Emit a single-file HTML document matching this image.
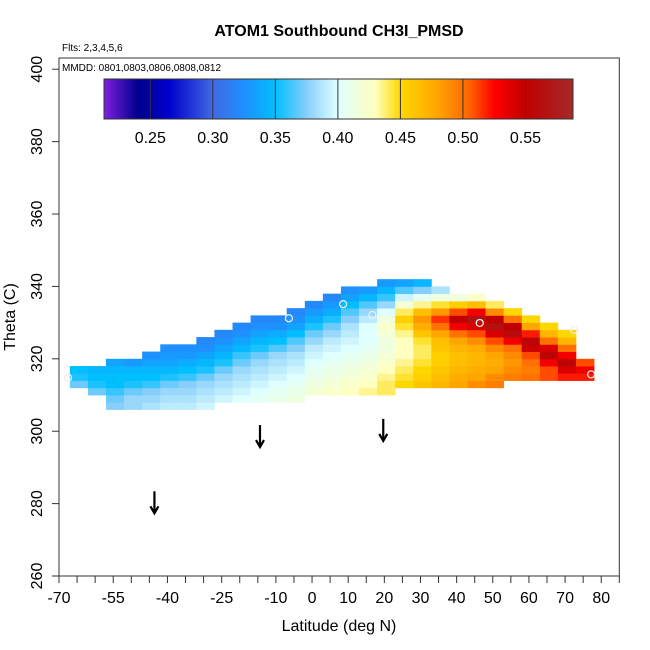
<!DOCTYPE html>
<html><head><meta charset="utf-8"><style>
html,body{margin:0;padding:0;background:#fff;}
svg{display:block;font-family:"Liberation Sans",Arial,sans-serif;}
</style></head><body>
<svg id="chart" width="650" height="650" viewBox="0 0 650 650" xmlns="http://www.w3.org/2000/svg">
<rect x="0" y="0" width="650" height="650" fill="#fff"/>
<text x="339" y="36" text-anchor="middle" font-size="16" font-weight="bold">ATOM1 Southbound CH3I_PMSD</text>
<text x="62" y="51" font-size="10">Flts: 2,3,4,5,6</text>
<g id="plot"></g>
<text x="62" y="71" font-size="10">MMDD: 0801,0803,0806,0808,0812</text>
<g id="cbar"></g>
<text x="339" y="631" text-anchor="middle" font-size="16">Latitude (deg N)</text>
<text transform="translate(15,317) rotate(-90)" text-anchor="middle" font-size="16">Theta (C)</text>
</svg>
<script>
// ---- data ----
const colLats = [-64.5,-59.5,-54.5,-49.5,-44.5,-39.5,-34.5,-29.5,-24.5,-19.5,-14.5,-9.5,-4.5,0.5,5.5,10.5,15.5,20.5,25.5,30.5,35.5,40.5,45.5,50.5,55.5,60.5,65.5,70.5,75.5];
const colBottoms = [312,310,306,306,306,306,306,306,308,308,308,308,308,310,310,310,310,310,312,312,312,312,312,312,314,314,314,314,314];
const colValues = [
 [0.37,0.355,0.35],
 [0.37,0.355,0.35,0.345],
 [0.375,0.37,0.36,0.35,0.35,0.345,0.335],
 [0.38,0.38,0.37,0.355,0.35,0.345,0.33],
 [0.385,0.38,0.375,0.36,0.35,0.345,0.335,0.325],
 [0.39,0.385,0.38,0.37,0.355,0.345,0.335,0.33,0.325],
 [0.39,0.385,0.38,0.375,0.36,0.35,0.34,0.33,0.325],
 [0.395,0.39,0.385,0.38,0.37,0.355,0.345,0.335,0.325,0.32],
 [0.395,0.39,0.385,0.38,0.37,0.355,0.345,0.335,0.325,0.32],
 [0.40,0.395,0.39,0.385,0.38,0.37,0.36,0.345,0.335,0.325,0.32],
 [0.405,0.40,0.395,0.39,0.385,0.38,0.37,0.355,0.345,0.335,0.325,0.32],
 [0.41,0.405,0.40,0.395,0.39,0.385,0.38,0.365,0.35,0.34,0.325,0.32],
 [0.415,0.41,0.405,0.40,0.395,0.39,0.385,0.375,0.365,0.35,0.335,0.325,0.32],
 [0.42,0.415,0.41,0.405,0.40,0.395,0.39,0.38,0.37,0.355,0.34,0.33,0.32],
 [0.425,0.42,0.415,0.41,0.405,0.40,0.395,0.39,0.38,0.37,0.355,0.34,0.33,0.32],
 [0.43,0.425,0.42,0.415,0.41,0.405,0.40,0.395,0.39,0.385,0.375,0.365,0.35,0.335,0.325],
 [0.435,0.43,0.425,0.42,0.415,0.41,0.405,0.40,0.40,0.40,0.39,0.38,0.365,0.345,0.33],
 [0.44,0.44,0.435,0.43,0.425,0.42,0.415,0.415,0.42,0.425,0.415,0.40,0.38,0.36,0.345,0.33],
 [0.45,0.445,0.44,0.435,0.43,0.43,0.43,0.435,0.445,0.455,0.44,0.42,0.395,0.365,0.335],
 [0.46,0.455,0.45,0.445,0.44,0.44,0.445,0.46,0.475,0.485,0.465,0.435,0.405,0.375,0.345],
 [0.47,0.465,0.46,0.455,0.455,0.46,0.465,0.48,0.50,0.515,0.485,0.445,0.415,0.385],
 [0.48,0.475,0.47,0.465,0.465,0.47,0.48,0.50,0.53,0.55,0.51,0.455,0.415],
 [0.49,0.48,0.475,0.47,0.47,0.475,0.49,0.51,0.54,0.565,0.53,0.465,0.425],
 [0.495,0.49,0.48,0.475,0.48,0.49,0.51,0.54,0.565,0.55,0.49,0.44],
 [0.495,0.49,0.485,0.49,0.50,0.53,0.56,0.55,0.50,0.45],
 [0.50,0.495,0.50,0.51,0.545,0.555,0.52,0.48,0.45],
 [0.51,0.51,0.53,0.555,0.54,0.50,0.47,0.45],
 [0.52,0.54,0.555,0.53,0.50,0.47,0.45],
 [0.52,0.53,0.51]
];
const markLats = [-67.5,-6.4,8.6,16.7,46.4,72.5,77.2];
const markThetas = [314.8,331.2,335.1,332.1,329.9,328,315.7];
const arrowLats = [-43.6,-14.4,19.7];
const arrowThetas = [283.4,301.7,303.4];
const xTicks = [-70,-65,-60,-55,-50,-45,-40,-35,-30,-25,-20,-15,-10,-5,0,5,10,15,20,25,30,35,40,45,50,55,60,65,70,75,80,85];
const xLabels = [-70,-55,-40,-25,-10,0,10,20,30,40,50,60,70,80];
const yTicks = [260,280,300,320,340,360,380,400];
const cbarTicks = [0.25,0.30,0.35,0.40,0.45,0.50,0.55];
const cbarMin = 0.213, cbarMax = 0.588;

// ---- scales ----
const X0=59, X1=619.3, Y0=576, Y1=58;
const LATMIN=-70, LATMAX=85, THMIN=260, THMAX=403.1;
const xs = v => X0 + (v-LATMIN)/(LATMAX-LATMIN)*(X1-X0);
const ys = v => Y0 - (v-THMIN)/(THMAX-THMIN)*(Y0-Y1);
const CW=5, RH=2;

const stops = [[0.213,[127,31,224]],[0.24,[0,0,139]],[0.265,[0,0,205]],[0.30,[65,105,225]],[0.325,[30,144,255]],[0.35,[0,191,255]],[0.375,[135,206,250]],[0.40,[224,255,255]],[0.43,[255,255,192]],[0.45,[255,215,0]],[0.48,[255,165,0]],[0.505,[255,100,0]],[0.525,[255,0,0]],[0.55,[192,0,0]],[0.588,[165,42,42]]];
function color(v){
  if(v<=stops[0][0]) return rgb(stops[0][1]);
  for(let i=1;i<stops.length;i++){
    if(v<=stops[i][0]){
      const a=stops[i-1],b=stops[i],t=(v-a[0])/(b[0]-a[0]);
      return rgb(a[1].map((c,k)=>c+(b[1][k]-c)*t));
    }
  }
  return rgb(stops[stops.length-1][1]);
}
function rgb(a){return 'rgb('+a.map(Math.round).join(',')+')';}

const NS='http://www.w3.org/2000/svg';
function mk(tag,attrs,parent){const e=document.createElementNS(NS,tag);for(const k in attrs)e.setAttribute(k,attrs[k]);parent.appendChild(e);return e;}
const plot=document.getElementById('plot');

// heatmap
const hm=mk('g',{},plot);


colLats.forEach((lat,i)=>{
  colValues[i].forEach((v,j)=>{
    const th=colBottoms[i]+j*RH;
    const x=xs(lat-CW/2), x2=xs(lat+CW/2), y=ys(th+RH), y2=ys(th);
    const r=mk('rect',{x:x.toFixed(2),y:y.toFixed(2),width:(x2-x+0.4).toFixed(2),height:(y2-y+0.4).toFixed(2),fill:color(v)},hm);
    
    
  });
});
// markers
markLats.forEach((lat,i)=>{
  const c=mk('circle',{cx:xs(lat),cy:ys(markThetas[i]),r:3.5,fill:'none',stroke:'#eeeeee','stroke-width':1.3},plot);
  
  
});
// arrows
arrowLats.forEach((lat,i)=>{
  const x=xs(lat), yt=ys(arrowThetas[i]), yb=yt+22;
  const g=mk('g',{},plot);
  
  
  mk('line',{x1:x,y1:yt,x2:x,y2:yb,stroke:'#000','stroke-width':2.2},g);
  mk('polyline',{points:`${x-4},${yb-7} ${x},${yb} ${x+4},${yb-7}`,fill:'none',stroke:'#000','stroke-width':2.2},g);
});
// frame
const fr=mk('rect',{x:X0,y:Y1,width:X1-X0,height:Y0-Y1,fill:'none',stroke:'#333','stroke-width':1},plot);


// x ticks
xTicks.forEach(t=>{
  const l=mk('line',{x1:xs(t),x2:xs(t),y1:Y0,y2:Y0+7,stroke:'#333'},plot);
  
  
});
xLabels.forEach(t=>{
  const tx=mk('text',{x:xs(t),y:603,'text-anchor':'middle','font-size':16},plot);
  tx.textContent=String(t);
  
  
});
yTicks.forEach(t=>{
  const l=mk('line',{x1:X0-7,x2:X0,y1:ys(t),y2:ys(t),stroke:'#333'},plot);
  
  
  const tx=mk('text',{transform:`translate(42,${ys(t)}) rotate(-90)`,'text-anchor':'middle','font-size':16},plot);
  tx.textContent=String(t);
  
  
});
// colorbar
const cb=document.getElementById('cbar');
const BX0=104,BX1=573,BY0=79,BY1=119;
const cx=v=>BX0+(v-cbarMin)/(cbarMax-cbarMin)*(BX1-BX0);
const defs=mk('defs',{},cb);
const lg=mk('linearGradient',{id:'cg',x1:0,x2:1,y1:0,y2:0},defs);
stops.forEach(s=>{mk('stop',{offset:((s[0]-cbarMin)/(cbarMax-cbarMin)).toFixed(4),'stop-color':rgb(s[1])},lg);});
const bar=mk('rect',{x:BX0,y:BY0,width:BX1-BX0,height:BY1-BY0,fill:'url(#cg)',stroke:'#333'},cb);


cbarTicks.forEach(t=>{
  const l=mk('line',{x1:cx(t),x2:cx(t),y1:BY0,y2:BY1,stroke:'#333'},cb);
  
  
  const tx=mk('text',{x:cx(t),y:143,'text-anchor':'middle','font-size':16},cb);
  tx.textContent=t.toFixed(2);
  
  
});
</script>
</body></html>
